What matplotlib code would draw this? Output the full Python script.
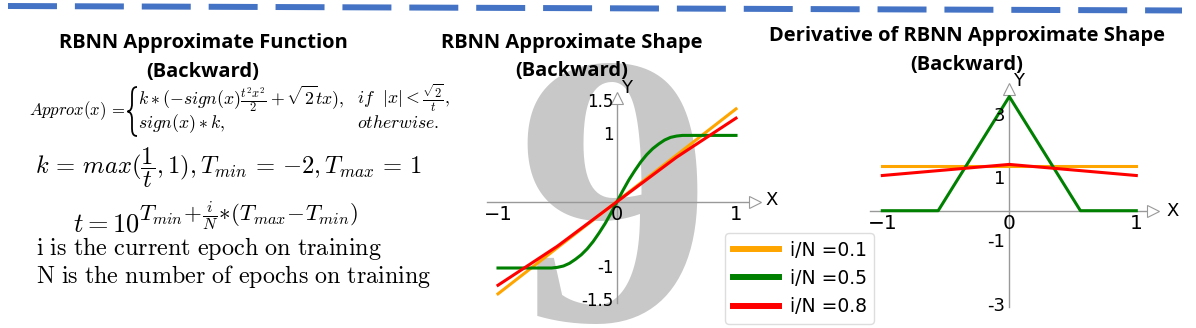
import matplotlib
matplotlib.use('Agg')
import matplotlib.pyplot as plt
from matplotlib.lines import Line2D
from matplotlib.path import Path
from matplotlib.patches import PathPatch

plt.rcParams['mathtext.fontset'] = 'cm'

# ---- data ----
ratios = ['i/N =0.1', 'i/N =0.5', 'i/N =0.8']
colors = ['#FFA500', '#008000', '#FF0000']

# approximate shape (middle panel)
shape_x_01 = [-1.0, 1.0]
shape_y_01 = [-1.39, 1.40]
shape_x_05 = [-1.0, -0.55, -0.5, -0.45, -0.4, -0.35, -0.3, -0.25, -0.2, -0.15, -0.1, -0.05, 0.0,
              0.05, 0.1, 0.15, 0.2, 0.25, 0.3, 0.35, 0.4, 0.45, 0.5, 0.55, 1.0]
shape_y_05 = [-1.0, -1.0, -0.99, -0.97, -0.93, -0.87, -0.8, -0.71, -0.6, -0.47, -0.33, -0.17, 0.0,
              0.17, 0.33, 0.47, 0.6, 0.71, 0.8, 0.87, 0.93, 0.97, 0.99, 1.0, 1.0]
shape_x_08 = [-1.0, -0.5, 0.0, 0.5, 1.0]
shape_y_08 = [-1.26, -0.67, 0.0, 0.67, 1.26]

# derivative (right panel)
deriv_x_01 = [-1.0, 1.0]
deriv_y_01 = [1.42, 1.42]
deriv_x_05 = [-1.0, -0.56, 0.0, 0.56, 1.0]
deriv_y_05 = [0.0, 0.0, 3.6, 0.0, 0.0]
deriv_x_08 = [-1.0, 0.0, 1.0]
deriv_y_08 = [1.11, 1.46, 1.11]

shape_xticks = [-1, 0, 1]
shape_yticks = [1.5, 1, -1, -1.5]
shape_yticklabels = ['1.5', '1', '-1', '-1.5']
deriv_xticks = [-1, 0, 1]
deriv_yticks = [3, 1, -1, -3]
deriv_yticklabels = ['3', '1', '-1', '-3']

W, H = 1196, 328
fig = plt.figure(figsize=(W / 100, H / 100), dpi=100)

# background axes in pixel coordinates (y down)
bg = fig.add_axes([0, 0, 1, 1])
bg.set_xlim(0, W)
bg.set_ylim(H, 0)
bg.axis('off')

# top dashed separator
bg.plot([8, 1182], [6, 10.5], color='#4472C4', lw=4.3, dashes=(8.2, 3.0), solid_capstyle='butt')

title_font = dict(family='Open Sans', weight='bold', fontsize=14.5, ha='center', va='center')
bg.text(203, 43, 'RBNN Approximate Function', **title_font)
bg.text(203, 72, '(Backward)', **title_font)
bg.text(572, 43, 'RBNN Approximate Shape', **title_font)
bg.text(572, 71, '(Backward)', **title_font)
bg.text(967, 36, 'Derivative of RBNN Approximate Shape', **title_font)
bg.text(967, 65, '(Backward)', **title_font)

# big watermark digit
bg.text(614, 320, '9', family='Liberation Serif', weight='bold', fontsize=280,
        color='#c8c8c8', ha='center', va='baseline', zorder=0)

# formulas
bg.text(125, 115, r'$Approx(x)\,=$', ha='right', va='baseline', fontsize=12)
brace = Path([(137, 87), (132, 87), (132, 92), (132, 96),
              (132, 104), (132, 111), (127.5, 111.5),
              (132, 112), (132, 119), (132, 127),
              (132, 131), (132, 136), (137, 136)],
             [Path.MOVETO, Path.CURVE4, Path.CURVE4, Path.LINETO,
              Path.LINETO, Path.CURVE3, Path.CURVE3,
              Path.CURVE3, Path.CURVE3, Path.LINETO,
              Path.CURVE4, Path.CURVE4, Path.CURVE4])
bg.add_patch(PathPatch(brace, fill=False, lw=1.3, edgecolor='black'))
bg.text(138, 104, r'$k\ast(-sign(x)\frac{t^2x^2}{2}+\sqrt{2}tx),$', ha='left', va='baseline', fontsize=12.8)
bg.text(357, 104, r'$if\ \ |x|<\frac{\sqrt{2}}{t},$', ha='left', va='baseline', fontsize=12.8)
bg.text(138, 128.5, r'$sign(x)\ast k,$', ha='left', va='baseline', fontsize=12.8)
bg.text(357, 128.5, r'$otherwise.$', ha='left', va='baseline', fontsize=12.8)
bg.text(35, 173, r'$k\,=\,max(\dfrac{1}{t},1),T_{min}\,=\,{-}2,T_{max}\,=\,1$',
        ha='left', va='baseline', fontsize=17.7)
bg.text(73, 231, r'$t=10$', ha='left', va='baseline', fontsize=19)
bg.text(139, 221, r'$T_{min}\!+\!\frac{i}{N}\!\ast\!(T_{max}\!-\!T_{min})$', ha='left', va='baseline', fontsize=16.5)
bg.text(36, 255, r'$\mathrm{i\ is\ the\ current\ epoch\ on\ training}$', ha='left', va='baseline', fontsize=17.4)
bg.text(36, 283, r'$\mathrm{N\ is\ the\ number\ of\ epochs\ on\ training}$', ha='left', va='baseline', fontsize=17.3)


def make_axes(box, origin, scale):
    x0, y0, x1, y1 = box
    ox, oy = origin
    sx, sy = scale
    ax = fig.add_axes([x0 / W, 1 - y1 / H, (x1 - x0) / W, (y1 - y0) / H])
    ax.set_xlim((x0 - ox) / sx, (x1 - ox) / sx)
    ax.set_ylim((oy - y1) / sy, (oy - y0) / sy)
    ax.axis('off')
    return ax


def draw_axes_lines(ax, xr, yr):
    ax.plot(xr, [0, 0], color='#999999', lw=1, zorder=1)
    ax.plot([0, 0], yr, color='#999999', lw=1, zorder=1)
    ax.plot([xr[1]], [0], marker='>', ms=8, mfc='white', mec='#999999', mew=0.8, zorder=1)
    ax.plot([0], [yr[1]], marker='^', ms=8, mfc='white', mec='#999999', mew=0.8, zorder=1)


# middle panel
ax1 = make_axes((470, 80, 790, 325), (617, 201.7), (119, 66.3))
draw_axes_lines(ax1, [-1.09, 1.16], [-1.53, 1.56])
ax1.plot(shape_x_01, shape_y_01, color=colors[0], lw=2.2, zorder=3)
ax1.plot(shape_x_05, shape_y_05, color=colors[1], lw=2.2, zorder=3)
ax1.plot(shape_x_08, shape_y_08, color=colors[2], lw=2.2, zorder=4)
for v in shape_xticks:
    ax1.text(v, -0.19, '−1' if v < 0 else str(v), ha='center', va='center', fontsize=14)
for v, s in zip(shape_yticks, shape_yticklabels):
    ax1.text(-0.03, v, s, ha='right', va='center', fontsize=12)
ax1.text(1.30, 0.02, 'X', ha='center', va='center', fontsize=13)
ax1.text(0.08, 1.71, 'Y', ha='center', va='center', fontsize=13)

# right panel
ax2 = make_axes((850, 70, 1196, 325), (1009.3, 210.7), (127, 31.7))
draw_axes_lines(ax2, [-1.1, 1.13], [-3.03, 3.85])
ax2.plot(deriv_x_01, deriv_y_01, color=colors[0], lw=2.2, zorder=3)
ax2.plot(deriv_x_05, deriv_y_05, color=colors[1], lw=2.2, zorder=3)
ax2.plot(deriv_x_08, deriv_y_08, color=colors[2], lw=2.2, zorder=4)
for v in deriv_xticks:
    ax2.text(v, -0.4, '−1' if v < 0 else str(v), ha='center', va='center', fontsize=14.5)
for v, s in zip(deriv_yticks, deriv_yticklabels):
    ax2.text(-0.03, v, s, ha='right', va='center', fontsize=13)
ax2.text(1.29, 0.0, 'X', ha='center', va='center', fontsize=13)
ax2.text(0.07, 4.1, 'Y', ha='center', va='center', fontsize=13)

# legend
handles = [Line2D([], [], color=c, lw=4.3) for c in colors]
fig.legend(handles, ratios, loc='upper left', bbox_to_anchor=(725 / W, 1 - 233 / H),
           borderaxespad=0, fontsize=13.5, handlelength=2.5, handletextpad=0.55,
           borderpad=0.4, labelspacing=0.5, framealpha=1, edgecolor='#dddddd')

fig.savefig('out.png', dpi=100)
